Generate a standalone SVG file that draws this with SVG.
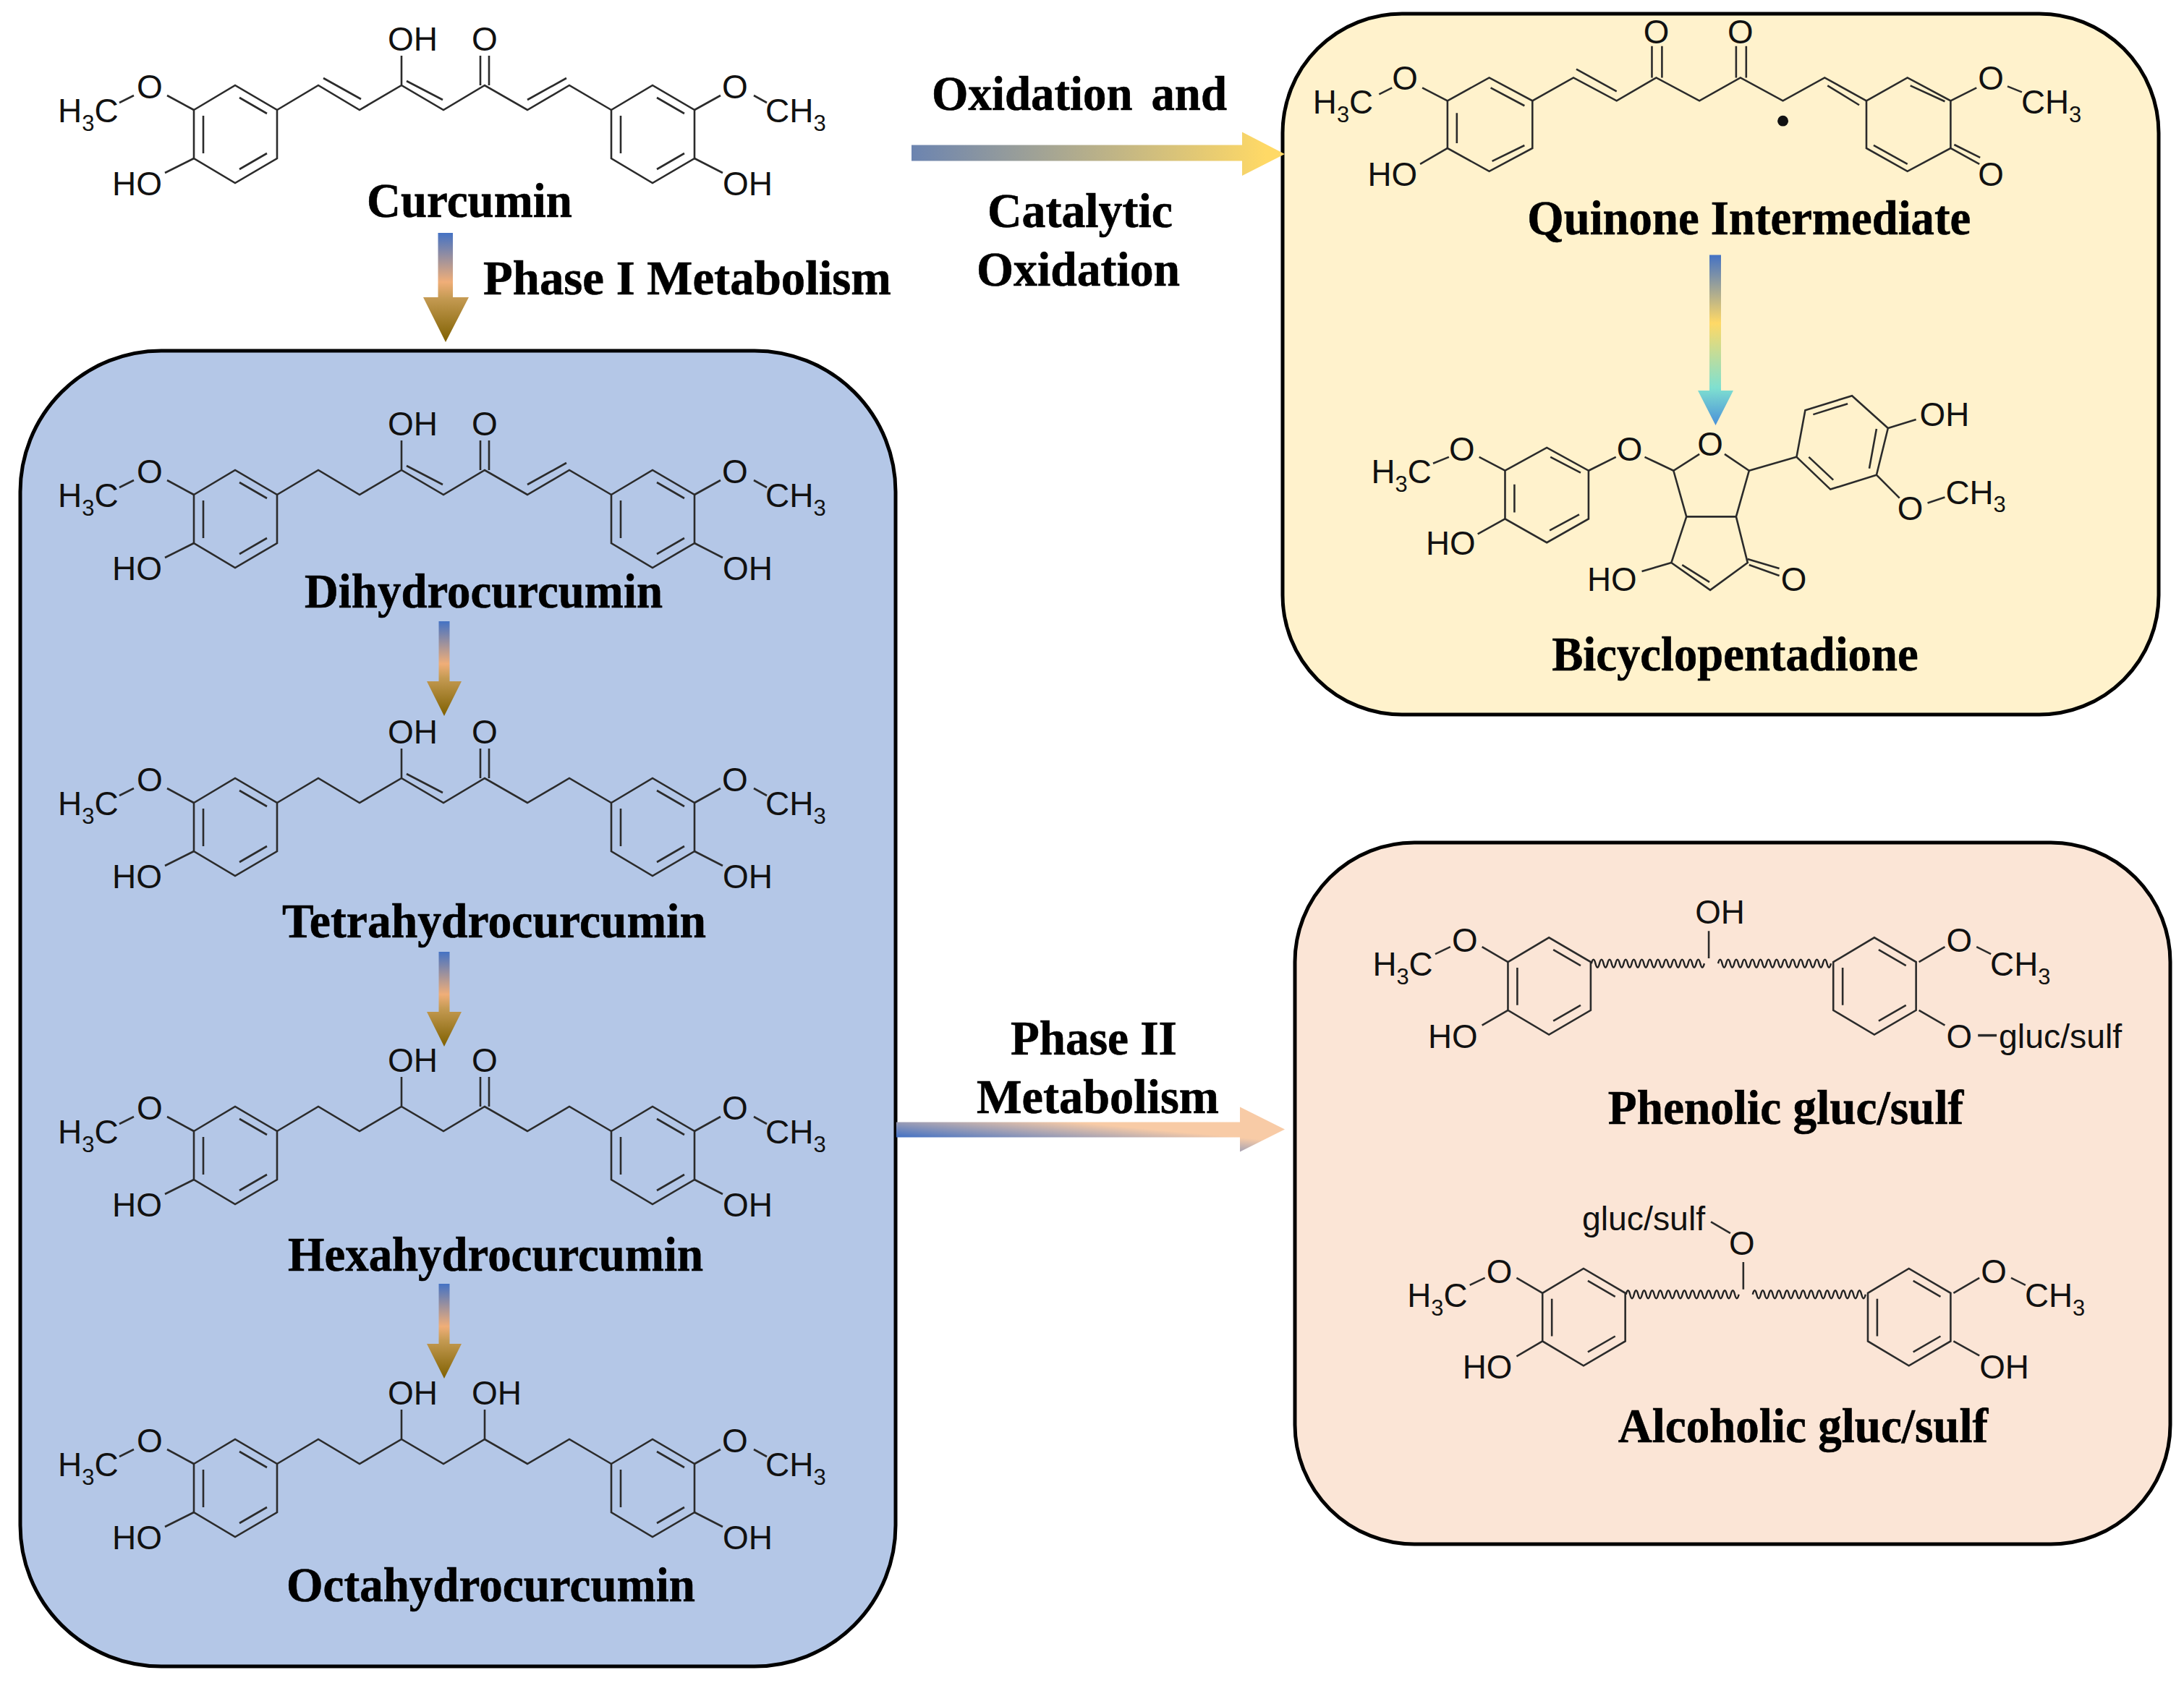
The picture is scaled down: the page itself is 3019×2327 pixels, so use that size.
<svg xmlns="http://www.w3.org/2000/svg" width="3019" height="2327" viewBox="0 0 3019 2327">
<style>
.box{stroke:#000;stroke-width:5}
.b{fill:none;stroke:#2b2b2b;stroke-width:2.6}
.w{fill:none;stroke:#222;stroke-width:2.4}
.m{font-family:"Liberation Sans",Arial,sans-serif;font-size:46px;fill:#111}
.c{text-anchor:middle}
.l{font-family:"Liberation Serif","Times New Roman",serif;font-size:67px;font-weight:bold;fill:#000;stroke:#000;stroke-width:.6}
.s{font-size:31px}
</style>
<defs>
<linearGradient id="gDown" x1="0" y1="0" x2="0" y2="1">
<stop offset="0" stop-color="#4472C4"/><stop offset=".45" stop-color="#F0AE78"/><stop offset=".6" stop-color="#C49A52"/><stop offset="1" stop-color="#7F6000"/>
</linearGradient>
<linearGradient id="gQ" x1="0" y1="0" x2="0" y2="1">
<stop offset="0" stop-color="#4472C4"/><stop offset=".4" stop-color="#FFD966"/><stop offset=".78" stop-color="#7FE0D0"/><stop offset="1" stop-color="#4A90D9"/>
</linearGradient>
<linearGradient id="gOx" x1="0" y1="0" x2="1" y2="0">
<stop offset="0" stop-color="#6C84B0"/><stop offset=".95" stop-color="#FFD966"/>
</linearGradient>
<linearGradient id="gP2" gradientUnits="userSpaceOnUse" x1="1239" y1="1572" x2="1243" y2="1529">
<stop offset="0" stop-color="#4472C4"/><stop offset="1" stop-color="#F8CBA6"/>
</linearGradient>
<path id="arrowSmall" fill="url(#gDown)" d="M-7.500 0H7.500V83H24L0 131 -24 83H-7.500Z"/>
<path id="ring" class="b" d="M0 34L57 0 115 34V101L57 135 0 101ZM13 42V94M63 17L101 39M101 94L63 116"/>
<path id="zig" class="b" d="M383 152L440 118 497 152 555 118 613 152 670 118 729 152 787 118 845 152M555 77V118"/>
<path id="subs" class="b" d="M268 152L231 132M165 142L185 132M268 219L228 239M960 152L996 132M1042 132L1060 142M960 219L999 239"/>
<path id="wave" class="w" d="M0 0q2.800-11 5.600 0t5.600 0t5.600 0t5.600 0t5.600 0t5.600 0t5.600 0t5.600 0t5.600 0t5.600 0t5.600 0t5.600 0t5.600 0t5.600 0t5.600 0t5.600 0t5.600 0t5.600 0t5.600 0t5.600 0t5.600 0t5.600 0t5.600 0t5.600 0t5.600 0t5.600 0t5.600 0t5.600 0"/>
<g id="skeleton">
<use href="#ring" x="268" y="118"/><use href="#ring" x="845" y="118"/><use href="#zig"/><use href="#subs"/>
</g>
<path id="glucSubs" class="b" d="M1985 1320L2006 1310M2050 1310L2086 1331M2050 1419L2086 1398M2657 1331L2693 1310M2737 1310L2757 1320"/>
</defs>
<rect width="3019" height="2327" fill="#fff"/>

<g id="box-phase1"><rect class="box" x="28" y="485" width="1210" height="1819" rx="195" fill="#B4C7E7"/></g>
<g id="box-quinone"><rect class="box" x="1773" y="19" width="1211" height="969" rx="165" fill="#FFF2CC"/></g>
<g id="box-phase2"><rect class="box" x="1790" y="1165" width="1210" height="970" rx="165" fill="#FBE5D6"/></g>

<g id="connectors">
<path fill="url(#gDown)" d="M605.500 322H626V411H648L616 473 585 411H605.500Z"/>
<use href="#arrowSmall" x="614" y="859"/>
<use href="#arrowSmall" x="614" y="1316"/>
<use href="#arrowSmall" x="614" y="1775"/>
<path fill="url(#gQ)" d="M2363 352.500H2379V540H2396L2371.500 588 2347 540H2363Z"/>
<path fill="url(#gOx)" d="M1260 200.500H1717V182.500L1776 213 1717 243V222.500H1260Z"/>
<path fill="url(#gP2)" d="M1239 1551.500H1714V1530.500L1776 1561.500 1714 1592.500V1572.500H1239Z"/>
</g>

<g id="labels-edges">
<text class="l" x="668" y="407" textLength="564" lengthAdjust="spacingAndGlyphs">Phase I Metabolism</text>
<text class="l" x="1288" y="152" textLength="408" lengthAdjust="spacingAndGlyphs" style="word-spacing:10px">Oxidation and</text>
<text class="l" x="1365" y="314" textLength="256" lengthAdjust="spacingAndGlyphs">Catalytic</text>
<text class="l" x="1350" y="395" textLength="281" lengthAdjust="spacingAndGlyphs">Oxidation</text>
<text class="l" x="1397" y="1458" textLength="230" lengthAdjust="spacingAndGlyphs">Phase II</text>
<text class="l" x="1350" y="1539" textLength="335" lengthAdjust="spacingAndGlyphs">Metabolism</text>
</g>

<g id="curcumin">
<use href="#skeleton"/>
<path class="b" d="M447 108L499 137M562 112L612 138M729 138L783 108M664 77V118M676 77V118"/>
<text class="m" x="80" y="169">H<tspan class="s" dy="12">3</tspan><tspan dy="-12">C</tspan></text>
<text class="m c" x="207" y="136">O</text><text class="m" x="155" y="270">HO</text>
<text class="m" x="536" y="70">OH</text><text class="m c" x="670" y="70">O</text>
<text class="m c" x="1016" y="136">O</text>
<text class="m" x="1058" y="169">CH<tspan class="s" dy="12">3</tspan></text>
<text class="m" x="999" y="270">OH</text>
<text class="l" x="507" y="300" textLength="284" lengthAdjust="spacingAndGlyphs">Curcumin</text>
</g>

<g id="dihydrocurcumin"><g transform="translate(0 532)">
<use href="#skeleton"/>
<path class="b" d="M562 112L612 138M729 138L783 108M664 77V118M676 77V118"/>
<text class="m" x="80" y="169">H<tspan class="s" dy="12">3</tspan><tspan dy="-12">C</tspan></text>
<text class="m c" x="207" y="136">O</text><text class="m" x="155" y="270">HO</text>
<text class="m" x="536" y="70">OH</text><text class="m c" x="670" y="70">O</text>
<text class="m c" x="1016" y="136">O</text>
<text class="m" x="1058" y="169">CH<tspan class="s" dy="12">3</tspan></text>
<text class="m" x="999" y="270">OH</text>
</g><text class="l" x="421" y="840" textLength="495" lengthAdjust="spacingAndGlyphs">Dihydrocurcumin</text></g>

<g id="tetrahydrocurcumin"><g transform="translate(0 958)">
<use href="#skeleton"/>
<path class="b" d="M562 112L612 138M664 77V118M676 77V118"/>
<text class="m" x="80" y="169">H<tspan class="s" dy="12">3</tspan><tspan dy="-12">C</tspan></text>
<text class="m c" x="207" y="136">O</text><text class="m" x="155" y="270">HO</text>
<text class="m" x="536" y="70">OH</text><text class="m c" x="670" y="70">O</text>
<text class="m c" x="1016" y="136">O</text>
<text class="m" x="1058" y="169">CH<tspan class="s" dy="12">3</tspan></text>
<text class="m" x="999" y="270">OH</text>
</g><text class="l" x="390" y="1296" textLength="586" lengthAdjust="spacingAndGlyphs">Tetrahydrocurcumin</text></g>

<g id="hexahydrocurcumin"><g transform="translate(0 1412)">
<use href="#skeleton"/>
<path class="b" d="M664 77V118M676 77V118"/>
<text class="m" x="80" y="169">H<tspan class="s" dy="12">3</tspan><tspan dy="-12">C</tspan></text>
<text class="m c" x="207" y="136">O</text><text class="m" x="155" y="270">HO</text>
<text class="m" x="536" y="70">OH</text><text class="m c" x="670" y="70">O</text>
<text class="m c" x="1016" y="136">O</text>
<text class="m" x="1058" y="169">CH<tspan class="s" dy="12">3</tspan></text>
<text class="m" x="999" y="270">OH</text>
</g><text class="l" x="398" y="1757" textLength="574" lengthAdjust="spacingAndGlyphs">Hexahydrocurcumin</text></g>

<g id="octahydrocurcumin"><g transform="translate(0 1872)">
<use href="#skeleton"/>
<path class="b" d="M670 77V118"/>
<text class="m" x="80" y="169">H<tspan class="s" dy="12">3</tspan><tspan dy="-12">C</tspan></text>
<text class="m c" x="207" y="136">O</text><text class="m" x="155" y="270">HO</text>
<text class="m" x="536" y="70">OH</text><text class="m" x="652" y="70">OH</text>
<text class="m c" x="1016" y="136">O</text>
<text class="m" x="1058" y="169">CH<tspan class="s" dy="12">3</tspan></text>
<text class="m" x="999" y="270">OH</text>
</g><text class="l" x="396" y="2214" textLength="565" lengthAdjust="spacingAndGlyphs">Octahydrocurcumin</text></g>

<g id="quinone-intermediate" transform="translate(1780 0) scale(.995) translate(-1780 0)">
<path class="b" d="M2002 140L2060 108 2120 140V206L2060 238 2002 206ZM2015 157V199M2062 122L2109 147M2109 202L2064 224"/>
<path class="b" d="M2120 140L2177 108 2237 140 2292 108 2352 140 2409 108 2468 140 2526 108 2584 140M2181 96L2237 127M2530 119L2574 146M2286 64V108M2300 64V108M2403 64V108M2417 64V108"/>
<path class="b" d="M2584 140L2641 108 2701 140V206L2641 238 2584 206ZM2645 119L2693 141M2594 202L2641 228M2701 206L2741 228M2706 201L2742 219"/>
<path class="b" d="M1967 122L2002 140M1907 131L1925 122M1964 228L2002 206M2701 140L2737 122M2780 120L2800 128"/>
<circle cx="2468" cy="168" r="7.500" fill="#111"/>
<text class="m" x="1815" y="158">H<tspan class="s" dy="12">3</tspan><tspan dy="-12">C</tspan></text>
<text class="m c" x="1943" y="125">O</text><text class="m" x="1891" y="258">HO</text>
<text class="m c" x="2292" y="60">O</text><text class="m c" x="2409" y="60">O</text>
<text class="m c" x="2757" y="125">O</text><text class="m c" x="2757" y="258">O</text>
<text class="m" x="2799" y="158">CH<tspan class="s" dy="12">3</tspan></text>
<text class="l" x="2113" y="326" textLength="616" lengthAdjust="spacingAndGlyphs">Quinone Intermediate</text>
</g>

<g id="bicyclopentadione" transform="translate(1780 0) scale(.995) translate(-1780 0)">
<path class="b" d="M2082 654L2140 622 2198 654V721L2140 754 2082 721ZM2095 673V712M2145 635L2187 657M2185 715L2144 737"/>
<path class="b" d="M2198 654L2236 635M2276 635L2316 654 2352 631M2387 631L2421 654 2403 718H2334L2316 654M2334 718L2313 782 2367 820 2419 782 2403 718M2328 785L2366 809M2419 777L2463 790M2421 785L2463 800M2272 794L2313 782"/>
<path class="b" d="M2421 654L2487 635 2499 570 2564 550 2614 595 2598 660 2534 680 2487 635M2510 576L2558 561M2598 596L2588 651M2504 635L2538 667M2614 595L2653 583M2598 660L2630 692M2669 699L2693 691"/>
<path class="b" d="M1982 644L2004 635M2046 635L2082 654M2044 742L2082 721"/>
<text class="m" x="1896" y="671">H<tspan class="s" dy="12">3</tspan><tspan dy="-12">C</tspan></text>
<text class="m c" x="2022" y="640">O</text><text class="m" x="1972" y="771">HO</text>
<text class="m c" x="2255" y="640">O</text><text class="m c" x="2367" y="633">O</text>
<text class="m" x="2196" y="821">HO</text><text class="m c" x="2483" y="821">O</text>
<text class="m" x="2658" y="592">OH</text><text class="m c" x="2645" y="723">O</text>
<text class="m" x="2694" y="700">CH<tspan class="s" dy="12">3</tspan></text>
<text class="l" x="2147" y="932" textLength="509" lengthAdjust="spacingAndGlyphs">Bicyclopentadione</text>
</g>

<g id="phenolic-gluc-sulf" transform="translate(1780 1150) scale(.995) translate(-1780 -1150)">
<use href="#ring" x="2086" y="1297"/><use href="#ring" x="2538" y="1297"/>
<use href="#glucSubs"/>
<use href="#wave" x="2202" y="1333"/><use href="#wave" x="2378" y="1333"/>
<path class="b" d="M2365 1288V1326M2657 1398L2693 1419"/>
<path class="b" style="stroke-width:3.500" d="M2739 1433H2765"/>
<text class="m" x="1898" y="1350">H<tspan class="s" dy="12">3</tspan><tspan dy="-12">C</tspan></text>
<text class="m c" x="2026" y="1317">O</text><text class="m" x="1975" y="1450">HO</text>
<text class="m" x="2346" y="1278">OH</text>
<text class="m c" x="2713" y="1317">O</text>
<text class="m" x="2756" y="1350">CH<tspan class="s" dy="12">3</tspan></text>
<text class="m c" x="2713" y="1450">O</text>
<text class="m" x="2768" y="1450" textLength="171" lengthAdjust="spacingAndGlyphs">gluc/sulf</text>
<text class="l" x="2225" y="1556" textLength="494" lengthAdjust="spacingAndGlyphs">Phenolic gluc/sulf</text>
</g>

<g id="alcoholic-gluc-sulf" transform="translate(1780 1150) scale(.995) translate(-1780 -1150)">
<g transform="translate(48 460)">
<use href="#ring" x="2086" y="1297"/><use href="#ring" x="2538" y="1297"/>
<use href="#glucSubs"/>
<use href="#wave" x="2202" y="1333"/><use href="#wave" x="2378" y="1333"/>
<path class="b" d="M2365 1288V1326M2657 1398L2693 1418"/>
<text class="m" x="1898" y="1350">H<tspan class="s" dy="12">3</tspan><tspan dy="-12">C</tspan></text>
<text class="m c" x="2026" y="1317">O</text><text class="m" x="1975" y="1450">HO</text>
<text class="m c" x="2713" y="1317">O</text>
<text class="m" x="2756" y="1350">CH<tspan class="s" dy="12">3</tspan></text>
<text class="m" x="2693" y="1450">OH</text>
</g>
<path class="b" d="M2368 1692L2395 1708"/>
<text class="m c" x="2411" y="1738">O</text>
<text class="m" x="2189" y="1704" textLength="171" lengthAdjust="spacingAndGlyphs">gluc/sulf</text>
<text class="l" x="2239" y="1998" textLength="514" lengthAdjust="spacingAndGlyphs">Alcoholic gluc/sulf</text>
</g>
</svg>
